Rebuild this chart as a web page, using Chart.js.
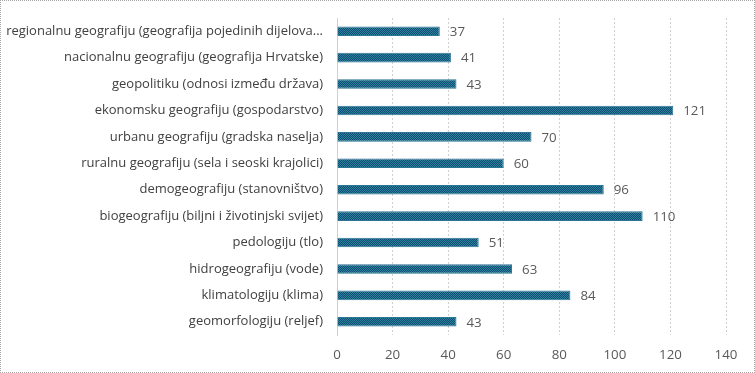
<!DOCTYPE html>
<html>
<head>
<meta charset="utf-8">
<script src="https://cdn.jsdelivr.net/npm/chart.js@4"></script>
<style>
    html, body { margin: 0; padding: 0; background: #fff; }
    #wrap { position: relative; width: 755px; height: 373px; box-sizing: border-box; border: 1px dotted #a6a6a6; }
    canvas { display: block; }
</style>
</head>
<body>
<div id="wrap"><canvas id="grafico" width="753" height="371"></canvas></div>
<script>
const kategorije = [
    'regionalnu geografiju (geografija pojedinih dijelova...',
    'nacionalnu geografiju (geografija Hrvatske)',
    'geopolitiku (odnosi između država)',
    'ekonomsku geografiju (gospodarstvo)',
    'urbanu geografiju (gradska naselja)',
    'ruralnu geografiju (sela i seoski krajolici)',
    'demogeografiju (stanovništvo)',
    'biogeografiju (biljni i životinjski svijet)',
    'pedologiju (tlo)',
    'hidrogeografiju (vode)',
    'klimatologiju (klima)',
    'geomorfologiju (reljef)'
];
const vrijednosti = [37, 41, 43, 121, 70, 60, 96, 110, 51, 63, 84, 43];
const xTicks = [0, 20, 40, 60, 80, 100, 120, 140];

function makePattern() {
    const c = document.createElement('canvas');
    c.width = 2;
    c.height = 2;
    const g = c.getContext('2d');
    g.fillStyle = '#114a78';
    g.fillRect(0, 0, 2, 2);
    g.fillStyle = '#2a8497';
    g.fillRect(0, 0, 1, 1);
    g.fillRect(1, 1, 1, 1);
    return g.createPattern(c, 'repeat');
}

const valueLabels = {
    id: 'valueLabels',
    afterDatasetsDraw(chart) {
        const ctx = chart.ctx;
        const meta = chart.getDatasetMeta(0);
        ctx.save();
        ctx.font = '13.3px "Open Sans", sans-serif';
        ctx.fillStyle = '#595959';
        ctx.textAlign = 'left';
        ctx.textBaseline = 'middle';
        meta.data.forEach((bar, i) => {
            ctx.fillText(vrijednosti[i], bar.x + 10, bar.y + 1);
        });
        ctx.restore();
    }
};

document.addEventListener('DOMContentLoaded', () => {
    const ctx = document.getElementById('grafico').getContext('2d');
    new Chart(ctx, {
        type: 'bar',
        data: {
            labels: kategorije,
            datasets: [{
                data: vrijednosti,
                backgroundColor: makePattern(),
                borderColor: '#2a7494',
                borderWidth: 1,
                barPercentage: 0.36,
                categoryPercentage: 1
            }]
        },
        options: {
            indexAxis: 'y',
            responsive: false,
            animation: false,
            layout: { padding: { left: 0, right: 28, top: 17, bottom: 0 } },
            plugins: {
                legend: { display: false },
                tooltip: { enabled: false }
            },
            scales: {
                x: {
                    min: 0,
                    max: 140,
                    afterBuildTicks: (s) => { s.ticks = xTicks.map(v => ({ value: v })); },
                    grid: { color: '#d0d0d0', drawTicks: false },
                    border: { display: false, dash: [2, 2] },
                    ticks: { color: '#595959', padding: 12, font: { family: 'Open Sans', size: 13.3 } },
                    afterFit: (s) => { s.height = 37; }
                },
                y: {
                    grid: { display: false, drawTicks: false },
                    border: { display: true, color: '#d0d0d0', dash: [2, 2] },
                    ticks: { color: '#404040', padding: 14, font: { family: 'Open Sans', size: 13 } },
                    afterFit: (s) => {
                        s.width = 336;
                        s.paddingTop = 0;
                        s.paddingBottom = 0;
                    }
                }
            }
        },
        plugins: [valueLabels]
    });
});
</script>
</body>
</html>
